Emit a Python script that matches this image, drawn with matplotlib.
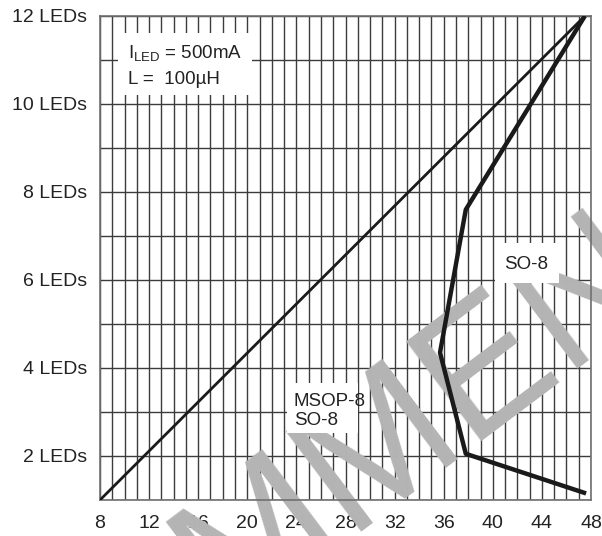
import matplotlib.pyplot as plt
from matplotlib.patches import Rectangle
import numpy as np

plt.rcParams['font.family'] = ['Liberation Sans', 'DejaVu Sans']
plt.rcParams['mathtext.fontset'] = 'custom'
plt.rcParams['mathtext.rm'] = 'Liberation Sans'
plt.rcParams['mathtext.it'] = 'Liberation Sans'

## data
vin_ticks = [8, 12, 16, 20, 24, 28, 32, 36, 40, 44, 48]
led_ticks = [2, 4, 6, 8, 10, 12]
led_labels = ['2 LEDs', '4 LEDs', '6 LEDs', '8 LEDs', '10 LEDs', '12 LEDs']

# thin line: minimum supply
min_vin = [8, 47.5]
min_leds = [1, 12]

# thick line: package limit
pkg_vin = [47.5, 37.8, 35.7, 37.8, 47.6]
pkg_leds = [12, 7.6, 4.35, 2.05, 1.15]

grid_col = '#3c3c3c'
txt_col = '#222222'

fig = plt.figure(figsize=(6.02, 5.36), dpi=100)
ax = fig.add_axes([100 / 602, 36 / 536, 491 / 602, 484 / 536])
ax.set_xlim(8, 48)
ax.set_ylim(1, 12)

ax.set_xticks(vin_ticks)
ax.set_xticks(np.arange(8, 49, 1), minor=True)
ax.set_yticks(led_ticks)
ax.set_yticklabels(led_labels)
ax.set_yticks(np.arange(1, 13, 1), minor=True)
ax.tick_params(which='both', length=0, labelsize=14, colors=txt_col)
ax.tick_params(axis='x', pad=11)
ax.tick_params(axis='y', pad=9)

ax.set_axisbelow(True)
ax.grid(which='both', color=grid_col, linewidth=1.0)
for s in ax.spines.values():
    s.set_color('#707070')
    s.set_linewidth(1.2)

# watermark
ax.text(29.4, 1.9, 'RECOMMENDED', fontsize=130, color='#b4b4b4',
        rotation=37, ha='center', va='center', zorder=1.5, clip_on=False)

# white label boxes
ax.add_patch(Rectangle((9.45, 10.2), 10.95, 1.41, facecolor='white',
                       edgecolor='none', zorder=2))
ax.add_patch(Rectangle((40.16, 5.93), 5.25, 0.91, facecolor='white',
                       edgecolor='none', zorder=2))
ax.add_patch(Rectangle((23.2, 2.52), 5.8, 1.14, facecolor='white',
                       edgecolor='none', zorder=2))

ax.text(10.3, 11.15, r'I$_{\rm LED}$ = 500mA', fontsize=13.5, va='center',
        color=txt_col, zorder=3)
ax.text(10.3, 10.55, 'L =  100µH', fontsize=13.5, va='center',
        color=txt_col, zorder=3)
ax.text(42.75, 6.36, 'SO-8', fontsize=13.5, ha='center', va='center',
        color=txt_col, zorder=3)
ax.text(23.8, 3.23, 'MSOP-8', fontsize=13.5, va='center',
        color=txt_col, zorder=3)
ax.text(23.8, 2.8, 'SO-8', fontsize=13.5, va='center',
        color=txt_col, zorder=3)

ax.plot(min_vin, min_leds, color='#1a1a1a', linewidth=2.0, zorder=4,
        solid_capstyle='butt')
ax.plot(pkg_vin, pkg_leds, color='#1a1a1a', linewidth=3.2, zorder=4,
        solid_capstyle='butt')

fig.savefig('out.png', dpi=100)
